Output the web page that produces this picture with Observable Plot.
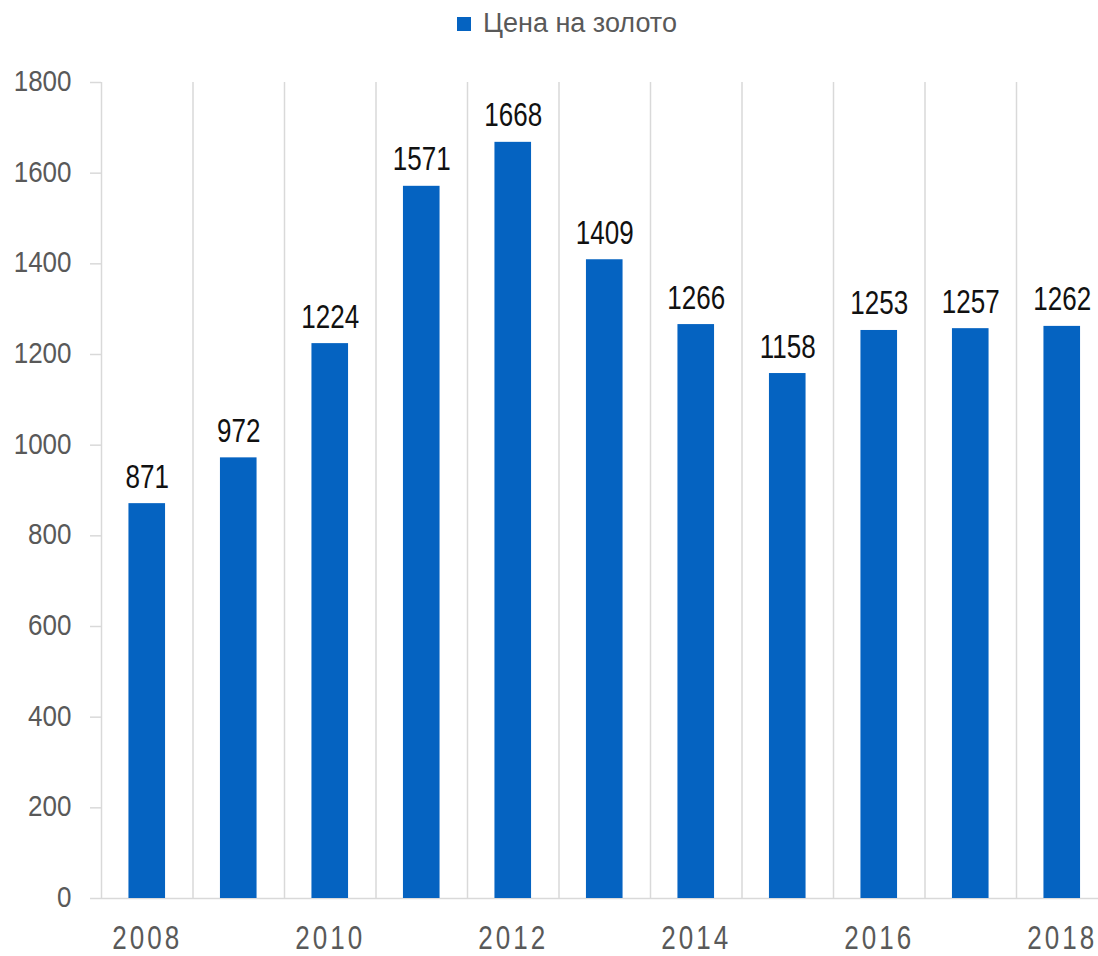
<!DOCTYPE html>
<html>
<head>
<meta charset="utf-8">
<script src="https://cdn.jsdelivr.net/npm/d3@7"></script>
<script src="https://cdn.jsdelivr.net/npm/@observablehq/plot@0.6"></script>
<style>
  html, body { margin: 0; padding: 0; background: #fff; }
  #wrap { position: relative; width: 1098px; height: 956px; overflow: hidden; }
  #legend { position: absolute; left: 0; top: 0; width: 1098px; height: 56px; }
  #legend .sw { position: absolute; left: 457px; top: 17px; width: 14px; height: 14px; background: #0563c1; }
  #legend .lb { position: absolute; left: 483px; top: 10px; font: 27px/27px "Liberation Sans", Arial, sans-serif; color: #595959; white-space: nowrap; }
  #chart { position: absolute; left: 0; top: 56px; }
  .xtk text { letter-spacing: 3px; }
</style>
</head>
<body>
<div id="wrap">
  <div id="legend"><div class="sw"></div><div class="lb">Цена на золото</div></div>
  <div id="chart"></div>
</div>
<script>
const seriesName = "Цена на золото";
const years = [2008, 2009, 2010, 2011, 2012, 2013, 2014, 2015, 2016, 2017, 2018];
const prices = [871, 972, 1224, 1571, 1668, 1409, 1266, 1158, 1253, 1257, 1262];
const yTicks = [0, 200, 400, 600, 800, 1000, 1200, 1400, 1600, 1800];
const xTicks = [2008, 2010, 2012, 2014, 2016, 2018];

const data = years.map((year, i) => ({year, price: prices[i]}));
const font = '"Liberation Sans", Arial, sans-serif';
const grid = "#d9d9d9";
const half = 0.2;

const chart = Plot.plot({
  width: 1098,
  height: 900,
  marginTop: 26,
  marginBottom: 58,
  marginLeft: 101,
  marginRight: 0,
  style: {fontFamily: font, background: "#fff"},
  x: {type: "linear", domain: [years[0] - 0.5, years[years.length - 1] + 0.5], range: [101, 1107.5]},
  y: {domain: [0, 1800]},
  marks: [
    Plot.ruleX(years, {x: d => d - 0.5, y1: 0, y2: 1800, stroke: grid, strokeWidth: 1.5}),
    Plot.ruleY([0], {x1: years[0] - 0.5, x2: years[years.length - 1] + 0.5, stroke: grid, strokeWidth: 1.5}),
    Plot.rect(data, {x1: d => d.year - half, x2: d => d.year + half, y1: 0, y2: "price", fill: "#0563c1"}),
    Plot.text(data, {x: "year", y: "price", text: d => String(d.price), dy: -16, lineAnchor: "bottom", fontSize: 26, fill: "#111", className: "vals"}),
    Plot.axisY(yTicks, {ticks: yTicks, tickSize: 11, tickPadding: 19, stroke: grid, strokeWidth: 1.5, fill: "#595959", fontSize: 26, className: "ytk", tickFormat: d => String(d), label: null}),
    Plot.axisX(xTicks, {ticks: xTicks, tickSize: 0, tickPadding: 32, fill: "#595959", fontSize: 26, className: "xtk", tickFormat: d => String(d), label: null})
  ]
});
document.getElementById("chart").appendChild(chart);

// stretch glyphs vertically (the reference text is taller than it is wide)
function stretch(sel, s) {
  chart.querySelectorAll(sel).forEach(t => {
    const bx = t.x.baseVal, by = t.y.baseVal;
    const x = bx.numberOfItems ? bx.getItem(0).value : 0;
    const y = by.numberOfItems ? by.getItem(0).value : 0;
    const tr = t.getAttribute("transform") || "";
    t.setAttribute("transform", `${tr} translate(${x},${y}) scale(1,${s}) translate(${-x},${-y})`);
  });
}
stretch(".vals text", 1.28);
stretch(".ytk text", 1.13);
stretch(".xtk text", 1.28);
</script>
</body>
</html>
